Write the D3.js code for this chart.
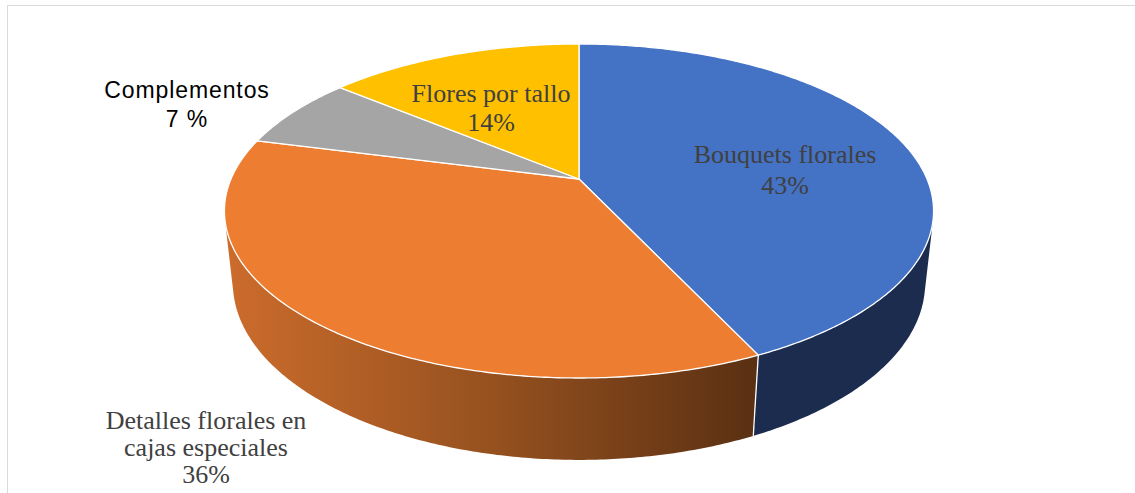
<!DOCTYPE html>
<html>
<head>
<meta charset="utf-8">
<script src="https://cdn.jsdelivr.net/npm/d3@7"></script>
<style>
  html, body { margin: 0; padding: 0; background: #fff; }
  svg { display: block; }
</style>
</head>
<body>
<svg id="chart" width="1135" height="493"></svg>
<script>
// Sales share by product line
const categories = ["Bouquets florales", "Detalles florales en cajas especiales", "Complementos", "Flores por tallo"];
const shares = [43, 36, 7, 14];
const pctLabels = ["43%", "36%", "7 %", "14%"];

const topColors = ["#4472c4", "#ed7d31", "#a5a5a5", "#ffc000"];
const sideColors = ["#1b2c4f", "url(#orangeSide)", "#5e5e5e", "#8f6c00"];

// label text layout: wrapped lines and their baselines
const labelLayout = [
  { lines: ["Bouquets florales", "43%"], x: 785, y: [163, 194], font: "Liberation Serif", size: 26, spacing: 0, fill: "#404040" },
  { lines: ["Detalles florales en", "cajas especiales", "36%"], x: 206, y: [429, 456, 483], font: "Liberation Serif", size: 26, spacing: 0, fill: "#404040" },
  { lines: ["Complementos", "7 %"], x: 187, y: [98, 127], font: "Liberation Sans", size: 23, spacing: 0.9, fill: "#000000" },
  { lines: ["Flores por tallo", "14%"], x: 491, y: [102, 131], font: "Liberation Serif", size: 26, spacing: 0, fill: "#404040" }
];

const svg = d3.select("#chart");
const W = 1135, H = 493;

// chart area frame
svg.append("rect")
  .attr("x", 7.5).attr("y", 5.5)
  .attr("width", W).attr("height", H)
  .attr("fill", "none").attr("stroke", "#d9d9d9").attr("stroke-width", 1);

const defs = svg.append("defs");
const grad = defs.append("linearGradient")
  .attr("id", "orangeSide")
  .attr("gradientUnits", "userSpaceOnUse")
  .attr("x1", 225).attr("y1", 0).attr("x2", 757).attr("y2", 0);
grad.append("stop").attr("offset", 0).attr("stop-color", "#cc6c2c");
grad.append("stop").attr("offset", 0.5).attr("stop-color", "#96511f");
grad.append("stop").attr("offset", 1).attr("stop-color", "#5a3013");

// perspective camera for the tilted disc (radius = 1 unit)
const cam = {
  cx: 579, cy: 179,     // projected centre of the top face
  a: 348,               // focal scale * radius / distance
  tilt: Math.asin(0.4623),
  k: 0.2161,            // radius / camera distance
  h: 0.236              // disc thickness in radius units
};
const sT = Math.sin(cam.tilt), cT = Math.cos(cam.tilt);

function project(theta, yw) {
  const X = Math.sin(theta), Z = -Math.cos(theta);
  const v = -yw * cT + Z * sT;
  const w = 1 - cam.k * (Z * cT + yw * sT);
  return [cam.cx + cam.a * X / w, cam.cy + cam.a * v / w];
}

function arcPoints(t0, t1, yw) {
  const n = Math.max(2, Math.ceil(Math.abs(t1 - t0) / 0.01));
  return d3.range(n + 1).map(i => project(t0 + (t1 - t0) * i / n, yw));
}

const pie = d3.pie().sort(null).value(d => d)(shares);
const line = d3.line();

// side faces are visible where cos(theta) < -k/cos(tilt)
const limit = Math.acos(-cam.k / cT);
const visLo = limit, visHi = 2 * Math.PI - limit;

const sides = svg.append("g");
pie.forEach((p, i) => {
  const t0 = Math.max(p.startAngle, visLo), t1 = Math.min(p.endAngle, visHi);
  if (t1 <= t0) return;
  const pts = arcPoints(t0, t1, 0).concat(arcPoints(t1, t0, -cam.h));
  sides.append("path")
    .attr("d", line(pts) + "Z")
    .attr("fill", sideColors[i])
    .attr("stroke", "none");
});
// seams between side faces
pie.forEach(p => {
  const t = p.startAngle;
  if (t > visLo && t < visHi) {
    sides.append("path")
      .attr("d", line([project(t, 0), project(t, -cam.h)]))
      .attr("stroke", "#ffffff").attr("stroke-width", 1.3).attr("fill", "none");
  }
});

// top faces
const tops = svg.append("g");
pie.forEach((p, i) => {
  const pts = [[cam.cx, cam.cy]].concat(arcPoints(p.startAngle, p.endAngle, 0));
  tops.append("path")
    .attr("d", line(pts) + "Z")
    .attr("fill", topColors[i])
    .attr("stroke", "#ffffff")
    .attr("stroke-width", 1.3)
    .attr("stroke-linejoin", "round");
});

// data labels
const labels = svg.append("g");
labelLayout.forEach(L => {
  const t = labels.append("text")
    .attr("text-anchor", "middle")
    .attr("font-family", L.font)
    .attr("font-size", L.size)
    .attr("letter-spacing", L.spacing)
    .attr("fill", L.fill);
  L.lines.forEach((s, j) => {
    t.append("tspan").attr("x", L.x).attr("y", L.y[j]).text(s);
  });
});
</script>
</body>
</html>
